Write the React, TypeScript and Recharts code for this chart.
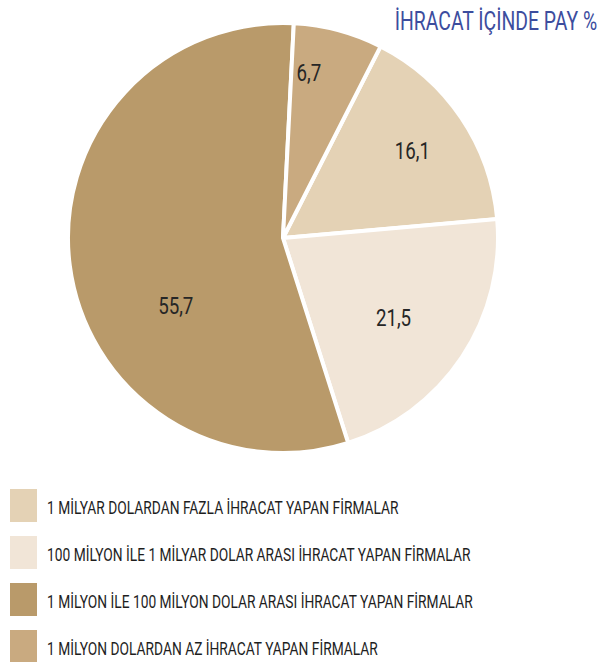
import React from 'react';
import { PieChart, Pie, Cell } from 'recharts';

const CATEGORIES = [
  '1 MİLYAR DOLARDAN FAZLA İHRACAT YAPAN FİRMALAR',
  '100 MİLYON İLE 1 MİLYAR DOLAR ARASI İHRACAT YAPAN FİRMALAR',
  '1 MİLYON İLE 100 MİLYON DOLAR ARASI İHRACAT YAPAN FİRMALAR',
  '1 MİLYON DOLARDAN AZ İHRACAT YAPAN FİRMALAR',
];
const SHARES = [16.1, 21.5, 55.7, 6.7];
const TITLE = 'İHRACAT İÇİNDE PAY %';

const COLORS = ['#e4d2b5', '#f1e5d7', '#b99a6a', '#c9aa80'];
// label placement per slice: radius and angle nudge from mid angle
const LABEL_POS = [
  { r: 156, da: 0 },
  { r: 136, da: -2 },
  { r: 127, da: 25 },
  { r: 167, da: 6 },
];

const FONT = 'Roboto, "Noto Sans", sans-serif';
const RAD = Math.PI / 180;

const data = CATEGORIES.map((name, i) => ({ name, value: SHARES[i] }));

const renderLabel = (props: any) => {
  const { cx, cy, midAngle, index, value } = props;
  const pos = LABEL_POS[index];
  const a = (midAngle + pos.da) * RAD;
  const x = cx + pos.r * Math.cos(a);
  const y = cy - pos.r * Math.sin(a);
  return (
    <text
      transform={`translate(${x},${y}) scale(0.78,1)`}
      textAnchor="middle"
      dominantBaseline="central"
      fill="#262626"
      style={{ fontFamily: FONT, fontSize: 24 }}
    >
      {String(value).replace('.', ',')}
    </text>
  );
};

const App: React.FC = () => {
  return (
    <div style={{ position: 'absolute', left: 0, top: 0, width: 604, height: 662, background: '#fff', fontFamily: FONT }}>
      <div
        style={{
          position: 'absolute',
          right: 7,
          top: 8,
          color: '#3c4d9e',
          fontSize: 25,
          lineHeight: '28px',
          whiteSpace: 'nowrap',
          transform: 'scaleX(0.775)',
          transformOrigin: 'right center',
        }}
      >
        {TITLE}
      </div>
      <PieChart width={604} height={470} margin={{ top: 0, right: 0, bottom: 0, left: 0 }}>
        <Pie
          data={data}
          dataKey="value"
          nameKey="name"
          cx={283}
          cy={238}
          outerRadius={215}
          startAngle={63}
          endAngle={-297}
          stroke="#ffffff"
          strokeWidth={4}
          labelLine={false}
          label={renderLabel}
          isAnimationActive={false}
        >
          {data.map((entry, index) => (
            <Cell key={`cell-${index}`} fill={COLORS[index]} />
          ))}
        </Pie>
      </PieChart>
      <div style={{ position: 'absolute', left: 10, top: 489 }}>
        {data.map((entry, index) => (
          <div key={entry.name} style={{ display: 'flex', alignItems: 'center', height: 33, marginBottom: 14 }}>
            <div style={{ width: 27, height: 33, background: COLORS[index], marginRight: 10, flexShrink: 0 }} />
            <span
              style={{
                fontSize: 18,
                color: '#1e1e1e',
                whiteSpace: 'nowrap',
                display: 'inline-block',
                transform: 'scaleX(0.765)',
                transformOrigin: 'left center',
                paddingTop: 4,
              }}
            >
              {entry.name}
            </span>
          </div>
        ))}
      </div>
    </div>
  );
};

export default App;
